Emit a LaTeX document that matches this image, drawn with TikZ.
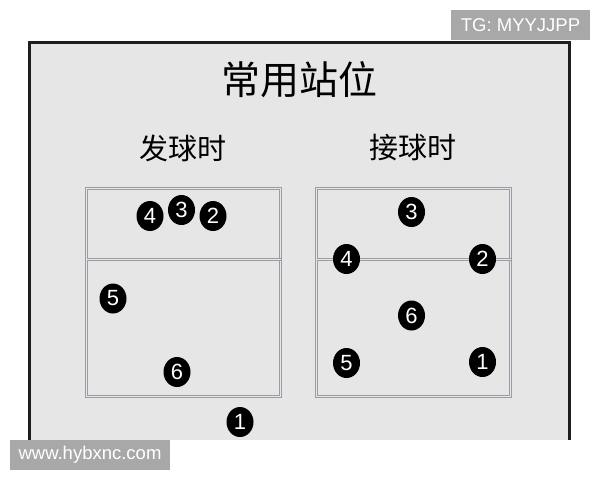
\documentclass[tikz,border=0pt]{standalone}
\usepackage{fontspec}
\setmainfont{Liberation Sans}
\newfontfamily\cjk{Noto Sans CJK SC}
\usetikzlibrary{shapes.geometric}
\definecolor{bg}{HTML}{E6E6E6}
\definecolor{frameline}{HTML}{1E1E1E}
\definecolor{courtline}{HTML}{9C9CA4}
\definecolor{wm}{HTML}{A8A8A8}
\tikzset{
  court/.style={draw=courtline, double=bg, double distance=1.8pt, line width=0.9pt},
  player/.style={ellipse, fill=black, minimum width=27pt, minimum height=30pt, inner sep=0pt,
    text=white, font=\fontsize{22}{22}\selectfont},
  wmbox/.style={fill=wm, text=white, inner sep=0pt, font=\fontsize{18.5}{18.5}\selectfont},
}
\begin{document}
\begin{tikzpicture}[x=1pt,y=-1pt]
\useasboundingbox (0,0) rectangle (600,480);
\fill[white] (0,0) rectangle (600,480);
% board
\fill[bg] (28,41) rectangle (571,440);
\draw[frameline, line width=2.6pt] (29.5,440) -- (29.5,42.7) -- (569.5,42.7) -- (569.5,440);
% titles
\node[font=\cjk\fontsize{39}{39}\selectfont] (title) at (299,80) {常用站位};
\node[font=\cjk\fontsize{29}{29}\selectfont] (serve) at (183,148) {发球时};
\node[font=\cjk\fontsize{29}{29}\selectfont] (receive) at (413,148) {接球时};
% left court
\draw[court] (86.5,188.5) rectangle (280.5,396.5);
\draw[court] (86.5,259.5) -- (280.5,259.5);
% right court
\draw[court] (316.5,188.5) rectangle (510.5,396.5);
\draw[court] (316.5,259.5) -- (510.5,259.5);
% serving positions
\node[player] (s4) at (150,216) {4};
\node[player] (s3) at (181.5,210) {3};
\node[player] (s2) at (213,216) {2};
\node[player] (s5) at (113,298.5) {5};
\node[player] (s6) at (177,372) {6};
\node[player] (s1) at (240,422) {1};
% receiving positions
\node[player] (r3) at (411.5,212) {3};
\node[player] (r4) at (346.5,259) {4};
\node[player] (r2) at (482.5,259) {2};
\node[player] (r6) at (411.5,315.5) {6};
\node[player] (r5) at (346.5,363) {5};
\node[player] (r1) at (482.5,362) {1};
% watermarks
\fill[wm] (451,10) rectangle (590,40);
\node[wmbox] (tg) at (520.5,25) {TG: MYYJJPP};
\fill[wm] (10,440) rectangle (170,470);
\node[wmbox] (www) at (90,455) {www.hybxnc.com};
\end{tikzpicture}
\end{document}
